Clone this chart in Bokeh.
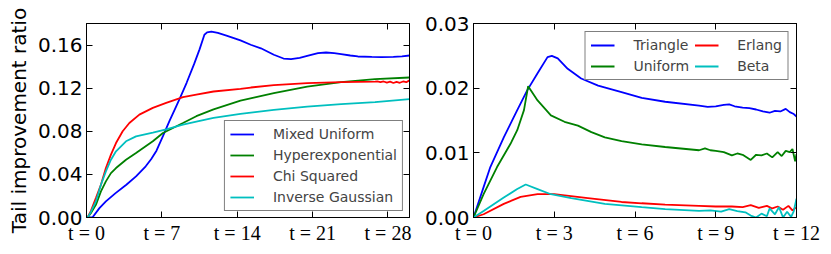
from bokeh.plotting import figure
from bokeh.models import (FixedTicker, LinearAxis, Legend, LegendItem, Range1d,
                          PrintfTickFormatter)
from bokeh.layouts import row
from bokeh.embed import file_html
from bokeh.resources import INLINE

# ---------------- left panel data ----------------
mixed_t = [0, 0.55, 1.2, 1.8, 2.7, 3.7, 4.6, 5.5, 6.0, 6.5, 7.1, 7.7, 8.3, 8.71, 9.3, 10.0,
           10.5, 10.95, 11.2, 11.6, 12.2, 13.0, 14.3, 15.25, 16.2, 17.4, 18.3, 19.0, 19.8,
           20.5, 21.5, 22.25, 23.0, 23.65, 24.5, 25.2, 26.5, 27.4, 28.5, 29.3, 30]
mixed = [0, 0, 0.0087, 0.0149, 0.0226, 0.0304, 0.0381, 0.0475, 0.054, 0.062, 0.0755,
         0.0895, 0.1025, 0.1115, 0.125, 0.1425, 0.156, 0.1696, 0.1718, 0.1725, 0.1712,
         0.1688, 0.1643, 0.1603, 0.157, 0.151, 0.1475, 0.147, 0.1482, 0.150, 0.1525,
         0.1531, 0.1525, 0.1516, 0.1503, 0.1494, 0.149, 0.1488, 0.149, 0.1495, 0.1503]

hyper_t = [0, 0.1, 0.4, 0.87, 1.34, 1.8, 2.27, 2.74, 3.67, 4.6, 6.16, 7.1, 8.96, 10.2,
           11.8, 14.3, 17.4, 20.5, 23.65, 26.8, 30]
hyper = [0, 0, 0.004, 0.0117, 0.0242, 0.0335, 0.0412, 0.0459, 0.0536, 0.0598, 0.0707,
         0.0784, 0.0877, 0.094, 0.1004, 0.1085, 0.1153, 0.1215, 0.1256, 0.1284, 0.1299]

chi_t = [0, 0.1, 0.4, 0.87, 1.34, 1.8, 2.27, 2.74, 3.36, 3.98, 4.91, 6.16, 7.4, 8.96,
         10.2, 11.8, 14.3, 15.26, 17.4, 20.5, 23.65, 26.8, 27.0, 27.3, 27.6, 27.9, 28.2,
         28.5, 28.8, 29.1, 29.4, 29.7, 30]
chi = [0, 0, 0.006, 0.018, 0.0304, 0.0459, 0.0583, 0.0691, 0.080, 0.0877, 0.0955,
       0.1017, 0.1063, 0.1116, 0.114, 0.1169, 0.1193, 0.1206, 0.1228, 0.1247, 0.1256,
       0.1261, 0.1262, 0.1255, 0.1262, 0.1252, 0.126, 0.1248, 0.1258, 0.125, 0.1262,
       0.1255, 0.1272]

inv_t = [0, 0.1, 0.4, 0.87, 1.34, 1.8, 2.27, 2.74, 3.67, 4.6, 6.16, 7.4, 8.96, 10.2,
         11.8, 14.3, 17.4, 20.5, 23.65, 26.8, 30]
inv = [0, 0, 0.005, 0.0149, 0.0304, 0.0428, 0.0536, 0.0614, 0.0707, 0.0753, 0.0788,
       0.0818, 0.0862, 0.089, 0.0925, 0.0962, 0.0998, 0.1029, 0.1051, 0.107, 0.1098]

left_names = ["Mixed Uniform", "Hyperexponential", "Chi Squared", "Inverse Gaussian"]
left_xticks = [0, 7, 14, 21, 28]
left_yticks = [0, 0.04, 0.08, 0.12, 0.16]

# ---------------- right panel data ----------------
tri_t = [0, 0.375, 0.625, 1.125, 1.625, 2.0, 2.38, 2.75, 2.91, 3.13, 3.5, 4.0, 4.63,
         5.5, 6.25, 7.12, 8.38, 8.7, 9.0, 9.3, 9.5, 9.7, 10.0, 10.25, 10.5, 10.75, 11.0,
         11.2, 11.4, 11.6, 11.75, 11.9, 12.0]
tri = [0, 0.0047, 0.0078, 0.0124, 0.0166, 0.0197, 0.0223, 0.0248, 0.0250, 0.0246,
       0.0230, 0.0215, 0.0204, 0.0194, 0.0185, 0.0179, 0.0173, 0.0171, 0.0172, 0.0174,
       0.0175, 0.0172, 0.0170, 0.0169, 0.0167, 0.0164, 0.0162, 0.0165, 0.0164, 0.0168,
       0.0163, 0.0160, 0.0156]

uni_t = [0, 0.375, 0.875, 1.375, 1.625, 1.875, 2.03, 2.38, 2.875, 3.38, 3.88, 4.38,
         4.88, 5.5, 6.25, 7.12, 8.38, 8.6, 8.8, 9.0, 9.3, 9.6, 9.8, 10.0, 10.3, 10.5,
         10.7, 10.9, 11.1, 11.3, 11.45, 11.6, 11.75, 11.85, 11.95, 12.0]
uni = [0, 0.0036, 0.0078, 0.0114, 0.0135, 0.0166, 0.0203, 0.0181, 0.0158, 0.0148,
       0.0142, 0.0132, 0.0124, 0.0118, 0.0113, 0.0109, 0.0104, 0.0107, 0.0104, 0.0103,
       0.0101, 0.0096, 0.0099, 0.0097, 0.0089, 0.0097, 0.0096, 0.0099, 0.0093, 0.0101,
       0.0095, 0.0103, 0.0101, 0.0106, 0.0087, 0.0098]

erl_t = [0, 0.375, 1.125, 1.75, 2.38, 3.0, 4.25, 5.5, 6.25, 7.12, 8.38, 9.0, 9.6, 10.0,
         10.3, 10.6, 10.9, 11.1, 11.3, 11.5, 11.7, 11.85, 12.0]
erl = [0, 0.0005, 0.0021, 0.0032, 0.0036, 0.0036, 0.0030, 0.0024, 0.0022, 0.0020,
       0.0018, 0.0017, 0.0017, 0.0016, 0.0019, 0.0015, 0.0018, 0.0014, 0.0017, 0.0012,
       0.0018, 0.0011, 0.0016]

beta_t = [0, 0.375, 1.125, 1.625, 1.94, 2.38, 2.875, 3.63, 4.88, 6.25, 7.12, 8.38, 8.8,
          9.2, 9.5, 9.8, 10.1, 10.3, 10.5, 10.7, 10.9, 11.0, 11.2, 11.35, 11.5, 11.65,
          11.8, 11.9, 12.0]
beta = [0, 0.001, 0.0031, 0.0044, 0.0051, 0.0044, 0.0036, 0.0030, 0.0021, 0.0016,
        0.0013, 0.00104, 0.0011, 0.0009, 0.0013, 0.0010, 0.0008, 0.0003, 0.0, 0.0006,
        0.0002, 0.0014, 0.0005, 0.0016, 0.0, 0.0009, 0.0001, 0.0010, 0.0029]

right_names = ["Triangle", "Uniform", "Erlang", "Beta"]
right_xticks = [0, 3, 6, 9, 12]
right_yticks = [0, 0.01, 0.02, 0.03]

COLORS = ["#0000ff", "#008000", "#ff0000", "#00bfbf"]
FONT = "DejaVu Sans"
TICK_FONT = "20px"
LW = 1.8


def make_fig(width, xr, yr, xticks, yticks, yfmt, left_border, right_border, ylabel=None):
    p = figure(width=width, height=252, output_backend="svg", toolbar_location=None,
               x_range=Range1d(*xr), y_range=Range1d(*yr),
               min_border_left=left_border, min_border_right=right_border,
               min_border_top=23, min_border_bottom=35,
               background_fill_color="white", border_fill_color="white")
    p.grid.visible = False
    p.outline_line_color = "black"
    p.outline_line_width = 1

    xa = p.xaxis[0]
    xa.ticker = FixedTicker(ticks=xticks)
    xa.major_label_overrides = {t: "t = %d" % t for t in xticks}
    xa.major_label_text_font = "Liberation Serif"
    xa.major_label_text_font_size = TICK_FONT
    xa.major_label_standoff = 4

    ya = p.yaxis[0]
    ya.ticker = FixedTicker(ticks=yticks)
    ya.formatter = PrintfTickFormatter(format=yfmt)
    ya.major_label_text_font = FONT
    ya.major_label_text_font_size = TICK_FONT
    ya.major_label_standoff = 4
    if ylabel:
        ya.axis_label = ylabel
        ya.axis_label_text_font = FONT
        ya.axis_label_text_font_size = "20px"
        ya.axis_label_text_font_style = "normal"
        ya.axis_label_text_color = "black"
        ya.axis_label_standoff = 4

    for ax in (xa, ya):
        ax.major_tick_in = 6
        ax.major_tick_out = 0
        ax.minor_tick_line_color = None
        ax.axis_line_color = "black"
        ax.major_label_text_color = "black"

    top = LinearAxis(ticker=FixedTicker(ticks=xticks))
    right = LinearAxis(ticker=FixedTicker(ticks=yticks))
    for ax in (top, right):
        ax.major_tick_in = 6
        ax.major_tick_out = 0
        ax.minor_tick_line_color = None
        ax.major_label_text_font_size = "1px"
        ax.major_label_text_color = None
        ax.major_label_standoff = 0
        ax.axis_line_color = "black"
    p.add_layout(top, "above")
    p.add_layout(right, "right")
    return p


p1 = make_fig(415, (0, 30), (0, 0.18), left_xticks, left_yticks, "%.2f", 86, 6,
              ylabel="Tail improvement ratio")
items1 = []
for name, xs, ys, c in zip(left_names, [mixed_t, hyper_t, chi_t, inv_t],
                           [mixed, hyper, chi, inv], COLORS):
    r = p1.line(xs, ys, line_color=c, line_width=LW)
    items1.append(LegendItem(label=name, renderers=[r]))
leg1 = Legend(items=items1, location="bottom_right")

p2 = make_fig(406, (0, 12), (0, 0.03), right_xticks, right_yticks, "%.2f", 58, 25)
r_tri = p2.line(tri_t, tri, line_color=COLORS[0], line_width=LW)
r_uni = p2.line(uni_t, uni, line_color=COLORS[1], line_width=LW)
r_erl = p2.line(erl_t, erl, line_color=COLORS[2], line_width=LW)
r_beta = p2.line(beta_t, beta, line_color=COLORS[3], line_width=LW)
items2 = [LegendItem(label=n, renderers=[r]) for n, r in
          zip(right_names, [r_tri, r_uni, r_erl, r_beta])]
leg2 = Legend(items=items2, location="top_right", nrows=2, orientation="vertical")

for leg, m in ((leg1, 6), (leg2, 8)):
    leg.label_text_font = FONT
    leg.label_text_font_size = "14px"
    leg.border_line_color = "black"
    leg.border_line_width = 1.2
    leg.background_fill_color = "white"
    leg.background_fill_alpha = 1
    leg.glyph_width = 24
    leg.glyph_height = 16
    leg.label_height = 16
    leg.label_standoff = 19
    leg.spacing = 5
    leg.padding = 5
    leg.margin = m
    leg.label_text_baseline = "middle"

p1.add_layout(leg1)
p2.add_layout(leg2)

layout = row(p1, p2)
open("out.html", "w").write(file_html(layout, INLINE))
